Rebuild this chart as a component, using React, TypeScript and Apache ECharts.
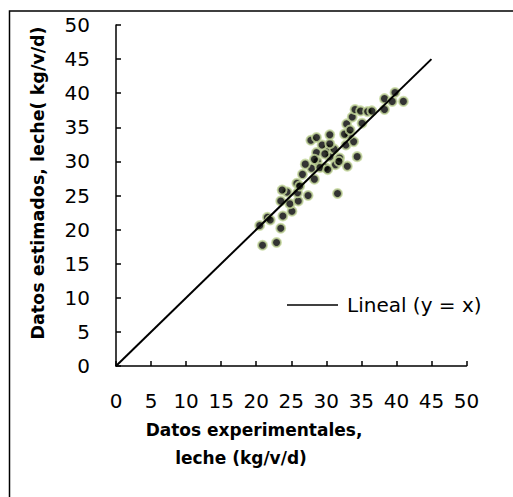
import React, { useEffect, useRef } from "react";
import * as echarts from "echarts";

const expX = [20.9, 22.9, 23.5, 20.5, 21.6, 23.8, 25.1, 24.8, 23.5, 26.0, 27.4, 31.6, 24.4, 23.7, 25.9, 25.8, 26.6, 28.3, 27.9, 28.7, 29.9, 31.3, 33.0, 34.4, 31.9, 30.5, 28.6, 30.2, 31.1, 29.4, 30.5, 27.8, 28.6, 30.5, 32.8, 33.9, 33.2, 32.6, 32.9, 33.7, 35.1, 34.1, 34.9, 35.9, 38.3, 38.3, 39.4, 39.8, 41.0, 28.3, 29.1, 30.2, 26.2, 22.0, 27.0, 33.4, 36.5, 29.8, 31.8];
const estY = [17.7, 18.1, 20.2, 20.6, 21.8, 22.0, 22.7, 23.8, 24.2, 24.2, 25.0, 25.3, 25.5, 25.8, 25.4, 26.8, 28.1, 27.4, 29.0, 30.0, 29.1, 29.5, 29.3, 30.7, 30.5, 30.7, 31.3, 31.9, 31.8, 32.4, 32.6, 33.1, 33.5, 33.9, 32.4, 32.9, 33.9, 34.0, 35.5, 36.5, 35.6, 37.6, 37.4, 37.3, 37.6, 39.2, 38.8, 40.1, 38.8, 30.3, 29.1, 28.8, 26.4, 21.4, 29.6, 34.6, 37.4, 31.1, 30.0];
const lineX = [0, 45];
const lineY = [0, 45];
const lineName = "Lineal (y = x)";
const xTitle1 = "Datos experimentales,";
const xTitle2 = "leche (kg/v/d)";
const yTitle = "Datos estimados, leche( kg/v/d)";

export default function App() {
  const ref = useRef<HTMLDivElement>(null);
  useEffect(() => {
    const chart = echarts.init(ref.current!, null, { renderer: "svg" });
    const font = "DejaVu Sans";
    chart.setOption({
      animation: false,
      backgroundColor: "#ffffff",
      grid: { left: 116, right: 46.5, top: 25, bottom: 131 },
      xAxis: {
        type: "value",
        min: 0,
        max: 50,
        interval: 5,
        axisLine: { lineStyle: { color: "#000", width: 1.5 } },
        axisTick: { inside: true, length: 5, lineStyle: { color: "#000", width: 1.5 } },
        axisLabel: { color: "#000", fontFamily: font, fontSize: 20, margin: 25 },
        splitLine: { show: false },
      },
      yAxis: {
        type: "value",
        min: 0,
        max: 50,
        interval: 5,
        axisLine: { show: true, lineStyle: { color: "#000", width: 1.5 } },
        axisTick: { show: true, inside: true, length: 5, lineStyle: { color: "#000", width: 1.5 } },
        axisLabel: { color: "#000", fontFamily: font, fontSize: 20, margin: 26 },
        splitLine: { show: false },
      },
      legend: {
        data: [{ name: lineName, icon: "rect" }],
        left: 282,
        top: 290,
        itemWidth: 51,
        itemHeight: 1.5,
        itemStyle: { color: "#000" },
        textStyle: { color: "#000", fontFamily: font, fontSize: 20, padding: [0, 0, 0, 4] },
      },
      graphic: [
        {
          type: "rect",
          shape: { x: 9.5, y: 11, width: 700, height: 700 },
          style: { fill: "none", stroke: "#000", lineWidth: 1.5 },
          silent: true,
        },
        {
          type: "text",
          x: 254,
          y: 430,
          style: { text: xTitle1, fontFamily: font, fontWeight: "bold", fontSize: 17, fill: "#000", align: "center", verticalAlign: "middle" },
        },
        {
          type: "text",
          x: 241,
          y: 458,
          style: { text: xTitle2, fontFamily: font, fontWeight: "bold", fontSize: 17, fill: "#000", align: "center", verticalAlign: "middle" },
        },
        {
          type: "text",
          x: 38,
          y: 183,
          rotation: Math.PI / 2,
          style: { text: yTitle, fontFamily: font, fontWeight: "bold", fontSize: 17.5, fill: "#000", align: "center", verticalAlign: "middle" },
        },
      ],
      series: [
        {
          type: "scatter",
          name: "datos",
          data: expX.map((x, i) => [x, estY[i]]),
          symbol: "circle",
          symbolSize: 9,
          itemStyle: { color: "#000", borderColor: "#c4d79b", borderWidth: 2 },
          z: 2,
        },
        {
          type: "line",
          name: lineName,
          data: lineX.map((x, i) => [x, lineY[i]]),
          showSymbol: false,
          symbol: "none",
          lineStyle: { color: "#000", width: 2 },
          itemStyle: { color: "#000" },
          z: 3,
        },
      ],
    });
    return () => chart.dispose();
  }, []);
  return <div ref={ref} style={{ position: "absolute", left: 0, top: 0, width: 513, height: 497 }} />;
}
